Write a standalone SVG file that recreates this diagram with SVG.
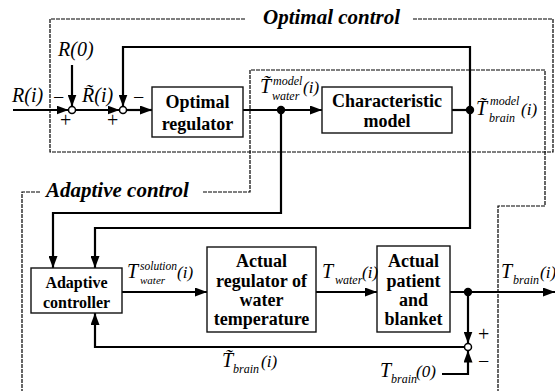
<svg xmlns="http://www.w3.org/2000/svg" width="555" height="391" viewBox="0 0 555 391" font-family="Liberation Serif, DejaVu Serif, serif">
<style>
.frame{fill:none;stroke:#000;stroke-width:1.2;stroke-dasharray:4 1}
.box{fill:#fff;stroke:#111;stroke-width:1.4}
.wire{fill:none;stroke:#000;stroke-width:2.2}
.arr{marker-end:url(#ah)}
.bt{font-weight:bold;font-size:18px;text-anchor:middle}
.ft{font-weight:bold;font-style:italic;font-size:21px}
.lb{font-style:italic;font-size:20px}
.pa{font-style:italic;font-size:17px}
.sm{font-style:italic;font-size:12px}
.sg{font-size:20px}
.sum{fill:#fff;stroke:#000;stroke-width:1.5}
.dot{fill:#000}
</style>
<defs>
<marker id="ah" markerUnits="userSpaceOnUse" markerWidth="12" markerHeight="9" viewBox="0 0 12 9" refX="12" refY="4.5" orient="auto">
<path d="M0,0 L12,4.5 L0,9 z" fill="#000"/>
</marker>
</defs>
<rect width="555" height="391" fill="#fff"/>
<g id="frames">
<path class="frame" d="M245,19 H50 V152 H553 V19 H412"/>
<text class="ft" x="263" y="24">Optimal control</text>
<path class="frame" d="M40,192 H22 V391"/>
<path class="frame" d="M203,192 H250 V70 H545 V206 H498 V391"/>
<text class="ft" x="46" y="197">Adaptive control</text>
</g>
<g id="connectors">
<path class="wire arr" d="M13,110 H68.5"/>
<path class="wire arr" d="M72,65 V106.5"/>
<path class="wire arr" d="M75.5,110 H119.5"/>
<path class="wire arr" d="M126.5,110 H152"/>
<path class="wire arr" d="M243,110 H322"/>
<path class="wire" d="M452,110 H470"/>
<path class="wire arr" d="M470,110 V47 H123 V106.5"/>
<path class="wire arr" d="M470,110 V228 H95 V268"/>
<path class="wire arr" d="M281,110 V213 H53 V268"/>
<path class="wire arr" d="M122,292 H207"/>
<path class="wire arr" d="M316,292 H377"/>
<path class="wire arr" d="M450,292 H555"/>
<path class="wire arr" d="M468,292 V343.5"/>
<path class="wire arr" d="M442,374 H468 V350.5"/>
<path class="wire arr" d="M464.5,347 H95 V313"/>
<circle class="dot" cx="281" cy="110" r="4.2"/>
<circle class="dot" cx="470" cy="110" r="4.2"/>
<circle class="dot" cx="468" cy="292" r="4.2"/>
</g>
<g id="sum1"><circle class="sum" cx="72" cy="110" r="3.5"/></g>
<g id="sum2"><circle class="sum" cx="123" cy="110" r="3.5"/></g>
<g id="sum3"><circle class="sum" cx="468" cy="347" r="3.5"/></g>
<g id="optimal-regulator">
<rect class="box" x="152" y="87" width="91" height="50"/>
<text class="bt" x="197.5" y="108">Optimal</text>
<text class="bt" x="197.5" y="130">regulator</text>
</g>
<g id="characteristic-model">
<rect class="box" x="322" y="87" width="130" height="46"/>
<text class="bt" x="387" y="107">Characteristic</text>
<text class="bt" x="387" y="127">model</text>
</g>
<g id="adaptive-controller">
<rect class="box" x="31" y="268" width="91" height="45"/>
<text class="bt" x="76.5" y="288" style="font-size:16px">Adaptive</text>
<text class="bt" x="76.5" y="307.5" style="font-size:16px">controller</text>
</g>
<g id="actual-regulator">
<rect class="box" x="207" y="247" width="109" height="85"/>
<text class="bt" x="261.5" y="267">Actual</text>
<text class="bt" x="261.5" y="287">regulator of</text>
<text class="bt" x="261.5" y="306">water</text>
<text class="bt" x="261.5" y="325">temperature</text>
</g>
<g id="actual-patient">
<rect class="box" x="377" y="246" width="73" height="86"/>
<text class="bt" x="413.5" y="267">Actual</text>
<text class="bt" x="413.5" y="287">patient</text>
<text class="bt" x="413.5" y="306">and</text>
<text class="bt" x="413.5" y="325">blanket</text>
</g>
<g id="labels">
<text class="lb" x="12" y="102">R(i)</text>
<text class="lb" x="58" y="56">R(0)</text>
<text class="lb" x="82" y="102">R̃(i)</text>
<text class="sg" x="60" y="127">+</text>
<text class="sg" x="107" y="127">+</text>
<text class="sg" x="53" y="104">−</text>
<text class="sg" x="133" y="104">−</text>
<text class="lb" x="260" y="93">T̃</text>
<text class="sm" x="273" y="85">model</text>
<text class="sm" x="272" y="100">water</text>
<text class="pa" x="303" y="93">(i)</text>
<text class="lb" x="476" y="115">T̃</text>
<text class="sm" x="490" y="105">model</text>
<text class="sm" x="489" y="122">brain</text>
<text class="pa" x="521" y="115">(i)</text>
<text class="lb" x="127" y="278">T</text>
<text class="sm" x="140" y="270" style="font-size:11.5px">solution</text>
<text class="sm" x="140" y="284" style="font-size:11px">water</text>
<text class="pa" x="177" y="278">(i)</text>
<text class="lb" x="322" y="278">T</text>
<text class="sm" x="335" y="284">water</text>
<text class="pa" x="362" y="278">(i)</text>
<text class="lb" x="501" y="278">T</text>
<text class="sm" x="513" y="284">brain</text>
<text class="pa" x="540" y="278">(i)</text>
<text class="lb" x="222" y="367">T̃</text>
<text class="sm" x="233" y="373">brain</text>
<text class="pa" x="261" y="367">(i)</text>
<text class="lb" x="380" y="377">T</text>
<text class="sm" x="391" y="383">brain</text>
<text class="pa" x="416" y="377">(0)</text>
<text class="sg" x="478" y="341">+</text>
<text class="sg" x="478" y="368">−</text>
</g>
</svg>
